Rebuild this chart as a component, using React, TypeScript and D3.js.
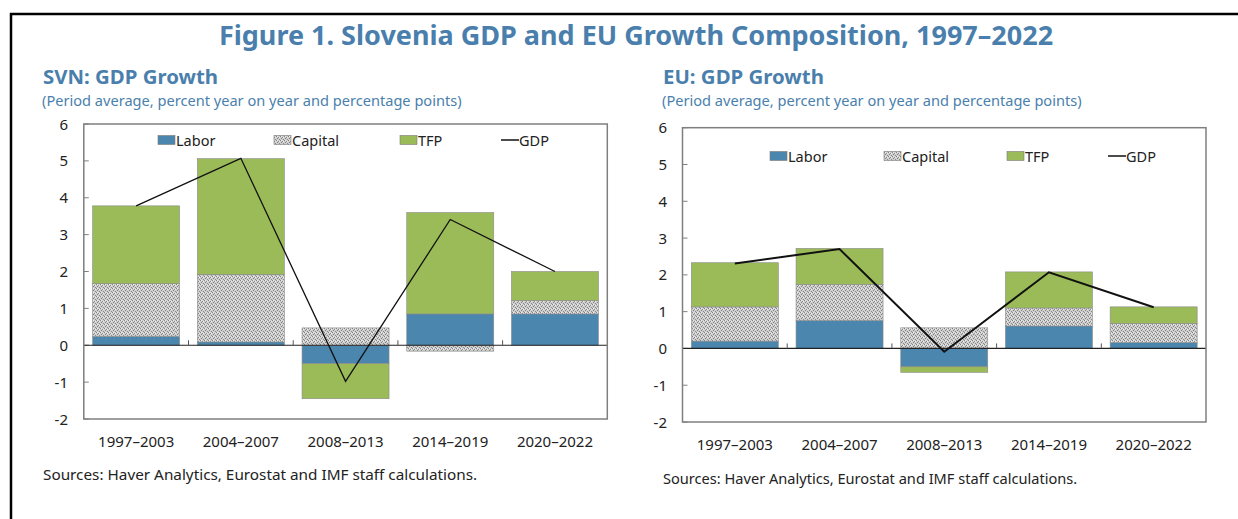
import React from "react";
import * as d3 from "d3";

const periods = ["1997–2003", "2004–2007", "2008–2013", "2014–2019", "2020–2022"];
const yTicks = [-2, -1, 0, 1, 2, 3, 4, 5, 6];

const svnLabor = [0.24, 0.09, -0.5, 0.85, 0.85];
const svnCapital = [1.43, 1.83, 0.47, -0.16, 0.36];
const svnTFP = [2.11, 3.14, -0.95, 2.75, 0.79];
const svnGDP = [3.78, 5.07, -0.98, 3.41, 2.0];

const euLabor = [0.2, 0.76, -0.5, 0.61, 0.16];
const euCapital = [0.93, 0.98, 0.56, 0.49, 0.52];
const euTFP = [1.2, 0.98, -0.15, 0.98, 0.45];
const euGDP = [2.31, 2.7, -0.09, 2.07, 1.12];

const seriesNames = ["Labor", "Capital", "TFP"];

const BLUE = "#4a86ae";
const GREEN = "#9bbb59";
const TITLE = "#4a7fad";
const FONT = "'Noto Sans', 'Open Sans', sans-serif";

type PanelProps = {
  title: string;
  labor: number[];
  capital: number[];
  tfp: number[];
  gdp: number[];
  x0: number;
  x1: number;
  y0: number;
  y1: number;
  textX: number;
  xLabelY: number;
  sourceY: number;
  sourceSize: number;
  legendY: number;
  legendX: number[];
  yLabelX: number;
  lineWidth: number;
};

function Panel(p: PanelProps) {
  const x = d3.scaleBand<string>().domain(periods).range([p.x0, p.x1]).paddingInner(0.169).paddingOuter(0.0845);
  const band = d3.scaleBand<string>().domain(periods).range([p.x0, p.x1]);
  const y = d3.scaleLinear().domain([-2, 6]).range([p.y1, p.y0]);
  const fills = [BLUE, "url(#capPat)", GREEN];
  const data = [p.labor, p.capital, p.tfp];

  const rects: React.ReactNode[] = [];
  periods.forEach((per, i) => {
    let pos = 0;
    let neg = 0;
    data.forEach((arr, s) => {
      const v = arr[i];
      let a: number, b: number;
      if (v >= 0) {
        a = pos;
        b = pos + v;
        pos = b;
      } else {
        a = neg;
        b = neg + v;
        neg = b;
      }
      const top = y(Math.max(a, b));
      const bot = y(Math.min(a, b));
      rects.push(
        <rect
          key={per + s}
          x={x(per)}
          y={top}
          width={x.bandwidth()}
          height={bot - top}
          fill={fills[s]}
          stroke="#8a8a8a"
          strokeWidth={0.6}
        />
      );
    });
  });

  const line = d3
    .line<number>()
    .x((_, i) => (x(periods[i]) as number) + x.bandwidth() / 2)
    .y((d) => y(d));

  const legendItems = seriesNames.concat(["GDP"]);

  return (
    <g fontFamily={FONT}>
      <text x={p.textX} y={84} fontSize={20.4} fontWeight={700} fill={TITLE}>
        {p.title}
      </text>
      <text x={p.textX - 1} y={106} fontSize={14.6} fill={TITLE}>
        (Period average, percent year on year and percentage points)
      </text>
      {yTicks.map((t) => (
        <g key={t}>
          <text x={p.yLabelX} y={y(t) + 5.5} fontSize={15} textAnchor="end" fill="#222">
            {t}
          </text>
          <line x1={p.x0} x2={p.x0 + 5} y1={y(t)} y2={y(t)} stroke="#808080" strokeWidth={1} />
        </g>
      ))}
      {rects}
      <line x1={p.x0} x2={p.x1} y1={y(0)} y2={y(0)} stroke="#222" strokeWidth={1.2} />
      {periods.slice(1).map((per) => (
        <line
          key={per}
          x1={band(per)}
          x2={band(per)}
          y1={y(0)}
          y2={y(0) - 5}
          stroke="#555"
          strokeWidth={1}
        />
      ))}
      <path d={line(p.gdp) || ""} fill="none" stroke="#111" strokeWidth={p.lineWidth} />
      <rect
        x={p.x0}
        y={p.y0}
        width={p.x1 - p.x0}
        height={p.y1 - p.y0}
        fill="none"
        stroke="#7f7f7f"
        strokeWidth={1.5}
      />
      {periods.map((per) => (
        <text
          key={per}
          x={(x(per) as number) + x.bandwidth() / 2}
          y={p.xLabelY}
          fontSize={15}
          textAnchor="middle"
          fill="#222"
        >
          {per}
        </text>
      ))}
      {legendItems.map((name, i) => {
        const lx = p.legendX[i];
        return (
          <g key={name}>
            {i < 3 ? (
              <rect
                x={lx}
                y={p.legendY - 4.5}
                width={17}
                height={9}
                fill={fills[i]}
                stroke="#7a7a7a"
                strokeWidth={0.6}
              />
            ) : (
              <line x1={lx} x2={lx + 18} y1={p.legendY} y2={p.legendY} stroke="#111" strokeWidth={1.5} />
            )}
            <text x={lx + 18} y={p.legendY + 5.5} fontSize={14.5} fill="#222">
              {name}
            </text>
          </g>
        );
      })}
      <text x={p.textX} y={p.sourceY} fontSize={p.sourceSize} fill="#222">
        Sources: Haver Analytics, Eurostat and IMF staff calculations.
      </text>
    </g>
  );
}

export default function App() {
  return (
    <svg
      width={1238}
      height={519}
      style={{ position: "absolute", left: 0, top: 0, background: "#fff" }}
    >
      <defs>
        <pattern id="capPat" width={4} height={4} patternUnits="userSpaceOnUse">
          <rect width={4} height={4} fill="#cfcfcf" />
          <rect x={0} y={0} width={1} height={1} fill="#808080" />
          <rect x={2} y={1} width={1} height={1} fill="#8a8a8a" />
          <rect x={1} y={2} width={1} height={1} fill="#808080" />
          <rect x={3} y={3} width={1} height={1} fill="#8a8a8a" />
          <rect x={3} y={1} width={1} height={1} fill="#ececec" />
          <rect x={1} y={0} width={1} height={1} fill="#ececec" />
        </pattern>
      </defs>
      <rect width={1238} height={519} fill="#fff" />
      <path d="M11,519 L11,14 L1238,14" fill="none" stroke="#000" strokeWidth={2.5} />
      <text
        x={636}
        y={45}
        textAnchor="middle"
        fontFamily={FONT}
        fontSize={27}
        fontWeight={700}
        fill={TITLE}
      >
        Figure 1. Slovenia GDP and EU Growth Composition, 1997–2022
      </text>
      <Panel
        title="SVN: GDP Growth"
        labor={svnLabor}
        capital={svnCapital}
        tfp={svnTFP}
        gdp={svnGDP}
        x0={83.8}
        x1={607.3}
        y0={124}
        y1={419}
        textX={43}
        xLabelY={446.5}
        sourceY={480}
        sourceSize={15.3}
        legendY={140}
        legendX={[158, 274, 400, 501]}
        yLabelX={68}
        lineWidth={1.3}
      />
      <Panel
        title="EU: GDP Growth"
        labor={euLabor}
        capital={euCapital}
        tfp={euTFP}
        gdp={euGDP}
        x0={682.5}
        x1={1206}
        y0={127.7}
        y1={422}
        textX={663}
        xLabelY={449.5}
        sourceY={484}
        sourceSize={14.6}
        legendY={156}
        legendX={[770, 884, 1007, 1108]}
        yLabelX={667}
        lineWidth={2}
      />
    </svg>
  );
}
